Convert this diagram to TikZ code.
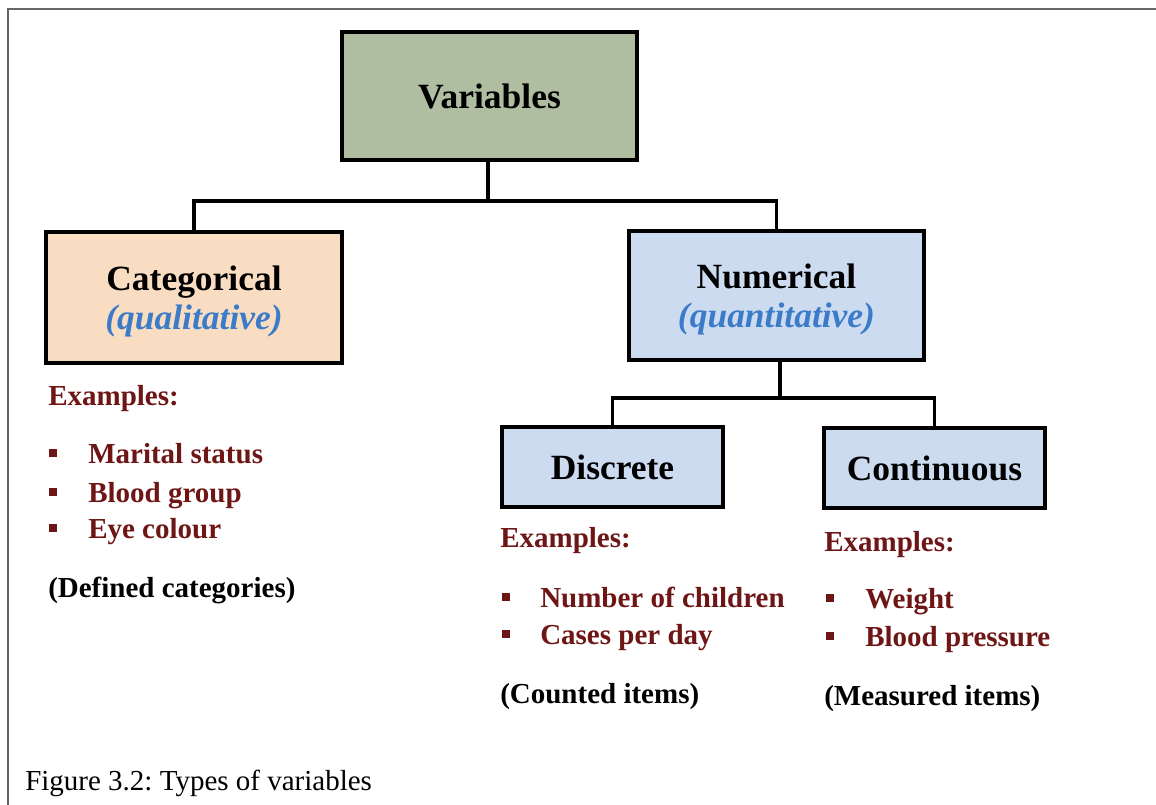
\documentclass[tikz,border=0pt]{standalone}
\usepackage{fontspec}
\setmainfont{Liberation Serif}
\frenchspacing
\definecolor{sage}{HTML}{AFBDA1}
\definecolor{peach}{HTML}{F8DDC3}
\definecolor{lblue}{HTML}{CCDBF0}
\definecolor{dred}{HTML}{6E1515}
\definecolor{iblue}{HTML}{3B7BC8}
\definecolor{frame}{HTML}{666666}
\tikzset{
  box/.style={draw=black, line width=2.3pt, inner sep=0pt, align=center,
    font=\fontsize{26.6}{31}\selectfont\bfseries},
  conn/.style={draw=black, line width=2.3pt},
  ex/.style={anchor=base west, inner sep=0pt, text=dred, font=\fontsize{21.75}{26}\selectfont\bfseries},
  note/.style={anchor=base west, inner sep=0pt, text=black, font=\fontsize{21.75}{26}\selectfont\bfseries},
  bul/.style={fill=dred, draw=none, minimum size=6.2pt, inner sep=0pt},
  sub/.style={text=iblue, font=\fontsize{26.6}{31}\selectfont\bfseries\itshape}
}
\begin{document}
\begin{tikzpicture}[x=0.75pt, y=-0.75pt]
\useasboundingbox (0,0) rectangle (1156,805);
% frame
\draw[frame, line width=1.5pt] (1156,9) -- (8,9) -- (8,805);
% boxes
\node[box, fill=sage, minimum width={295*0.75pt}, minimum height={128*0.75pt}] (var) at (489.5,96) {Variables};
\node[box, fill=peach, minimum width={296*0.75pt}, minimum height={131*0.75pt}] (cat) at (194,297.5) {\rule{0pt}{24pt}Categorical\\[-2pt]{\color{iblue}\itshape (qualitative)}};
\node[box, fill=lblue, minimum width={295*0.75pt}, minimum height={129*0.75pt}] (num) at (776.5,295.5) {\rule{0pt}{24pt}Numerical\\[-2pt]{\color{iblue}\itshape (quantitative)}};
\node[box, fill=lblue, minimum width={221*0.75pt}, minimum height={80*0.75pt}] (dis) at (612.5,467) {Discrete};
\node[box, fill=lblue, minimum width={221*0.75pt}, minimum height={80*0.75pt}] (con) at (934.5,468) {Continuous};
% connectors
\coordinate (j1) at (488,201);
\draw[conn] (var.south -| j1) -- (j1) -| (cat.north);
\draw[conn] (j1) -| (num.north);
\coordinate (j2) at (780,398);
\draw[conn] (num.south -| j2) -- (j2) -| (dis.north);
\draw[conn] (j2) -| (con.north);
% categorical examples
\node[ex] (cex) at (48,405) {Examples:};
\node[bul] (cb1) at (53,453) {};
\node[ex] (ct1) at (88,463) {Marital status};
\node[bul] (cb2) at (53,492) {};
\node[ex] (ct2) at (88,502) {Blood group};
\node[bul] (cb3) at (53,528) {};
\node[ex] (ct3) at (88,538) {Eye colour};
\node[note] (cn) at (48,597) {(Defined categories)};
% discrete examples
\node[ex] (dex) at (500,547) {Examples:};
\node[bul] (db1) at (506,597) {};
\node[ex] (dt1) at (540,607) {Number of children};
\node[bul] (db2) at (506,634) {};
\node[ex] (dt2) at (540,644) {Cases per day};
\node[note] (dn) at (500,703) {(Counted items)};
% continuous examples
\node[ex] (kex) at (824,551) {Examples:};
\node[bul] (kb1) at (830,598) {};
\node[ex] (kt1) at (865,608) {Weight};
\node[bul] (kb2) at (830,636) {};
\node[ex] (kt2) at (865,646) {Blood pressure};
\node[note] (kn) at (824,705) {(Measured items)};
% caption
\node[anchor=base west, inner sep=0pt, font=\fontsize{21.75}{26}\selectfont] (cap) at (25,790) {Figure 3.2: Types of variables};
\end{tikzpicture}
\end{document}
